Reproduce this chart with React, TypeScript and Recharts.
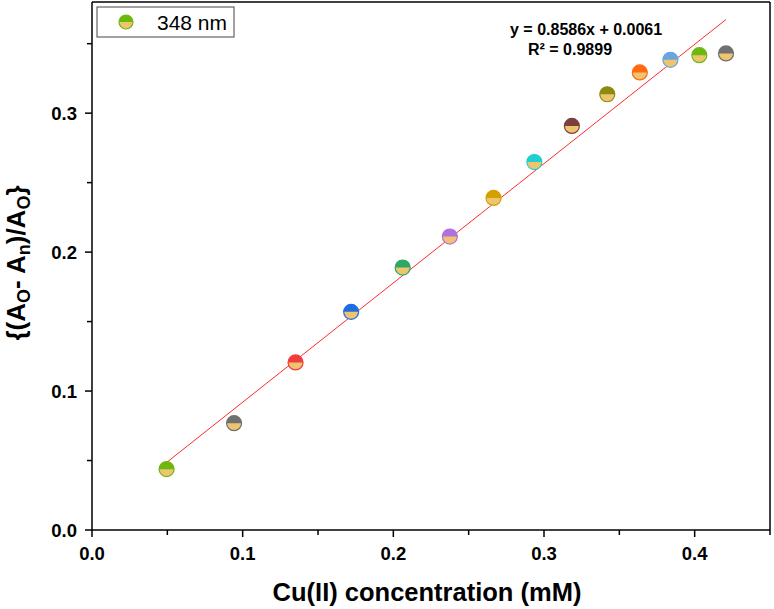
import React from "react"
import {
  ScatterChart,
  Scatter,
  XAxis,
  YAxis,
  ReferenceLine,
  Customized,
} from "recharts"

// concentrations (mM) and response {(Ao-An)/Ao}
const CONC = [0.0495, 0.0943, 0.1351, 0.172, 0.2062, 0.2375, 0.2665, 0.2936, 0.3185, 0.342, 0.3636, 0.3839, 0.4031, 0.4208]
const RESPONSE = [0.0438, 0.0769, 0.1206, 0.157, 0.1889, 0.2112, 0.239, 0.2648, 0.2908, 0.3136, 0.3293, 0.3384, 0.3417, 0.343]
const POINT_COLORS = [
  "#6cb80e", "#707070", "#f23c3c", "#1f6ee0", "#2fa866", "#b070e0", "#d4a000",
  "#1fd0d0", "#7a4040", "#8c8a10", "#ff6a10", "#6aa6de", "#6cb80e", "#707070",
]
const X_TICKS = [0, 0.05, 0.1, 0.15, 0.2, 0.25, 0.3, 0.35, 0.4, 0.45]
const Y_TICKS = [0, 0.05, 0.1, 0.15, 0.2, 0.25, 0.3, 0.35]

const SLOPE = 0.8586
const INTERCEPT = 0.0061
const FIT_RANGE = [0.0495, 0.4208]

const LOWER_FILL = "#eec46e"
const FONT = "Arial, 'Liberation Sans', sans-serif"

const data = CONC.map((x, i) => ({ x, y: RESPONSE[i], color: POINT_COLORS[i] }))
const fitSegment = FIT_RANGE.map((x) => ({ x, y: SLOPE * x + INTERCEPT }))

const isMajor = (v: number) => Math.abs(v * 10 - Math.round(v * 10)) < 1e-6

function HalfDot({ cx, cy, color, r = 7.5 }: any) {
  if (cx == null || cy == null) return null
  return (
    <g>
      <circle cx={cx} cy={cy} r={r} fill={LOWER_FILL} />
      <path d={`M ${cx - r} ${cy} A ${r} ${r} 0 0 1 ${cx + r} ${cy} Z`} fill={color} />
      <circle cx={cx} cy={cy} r={r} fill="none" stroke={color} strokeWidth={1.2} />
    </g>
  )
}

function XTick({ x, y, payload }: any) {
  const v = payload.value
  const major = isMajor(v)
  return (
    <g>
      <line x1={x} x2={x} y1={y} y2={y + (major ? 7 : 5)} stroke="#000" strokeWidth={1.5} />
      {major && (
        <text x={x} y={y + 30} textAnchor="middle" fontSize={18.5} fontWeight="bold" fill="#000" fontFamily={FONT}>
          {v.toFixed(1)}
        </text>
      )}
    </g>
  )
}

function YTick({ x, y, payload }: any) {
  const v = payload.value
  const major = isMajor(v)
  return (
    <g>
      <line x1={x} x2={x - (major ? 7 : 5)} y1={y} y2={y} stroke="#000" strokeWidth={1.5} />
      {major && (
        <text x={x - 15} y={y + 6.5} textAnchor="end" fontSize={18.5} fontWeight="bold" fill="#000" fontFamily={FONT}>
          {v.toFixed(1)}
        </text>
      )}
    </g>
  )
}

function Overlay() {
  return (
    <g fontFamily={FONT} fill="#000">
      {/* legend */}
      <rect x={97} y={7} width={137} height={30} fill="#fff" stroke="#444" strokeWidth={1} />
      <HalfDot cx={126} cy={22} color={POINT_COLORS[0]} r={7} />
      <text x={157} y={29.5} fontSize={21}>348 nm</text>

      {/* fit equation */}
      <text x={510} y={35} fontSize={16} fontWeight="bold">y = 0.8586x + 0.0061</text>
      <text x={528} y={55} fontSize={16} fontWeight="bold">R² = 0.9899</text>

      {/* axis titles */}
      <text x={427} y={601} textAnchor="middle" fontSize={25.5} fontWeight="bold">
        Cu(II) concentration (mM)
      </text>
      <text x={25} y={263} textAnchor="middle" fontSize={26} fontWeight="bold" transform="rotate(-90 25 263)">
        <tspan>{"{(A"}</tspan>
        <tspan fontSize={18} dy={5}>O</tspan>
        <tspan dy={-5}>{"- A"}</tspan>
        <tspan fontSize={18} dy={5}>n</tspan>
        <tspan dy={-5}>{")/A"}</tspan>
        <tspan fontSize={18} dy={5}>O</tspan>
        <tspan dy={-5}>{"}"}</tspan>
      </text>
    </g>
  )
}

export default function App() {
  return (
    <div style={{ position: "absolute", left: 0, top: 0, width: 774, height: 609, background: "#fff" }}>
      <ScatterChart width={774} height={609} margin={{ top: 2, right: 4, bottom: 0, left: 0 }}>
        <XAxis
          type="number"
          dataKey="x"
          domain={[0, 0.45]}
          ticks={X_TICKS}
          interval={0}
          height={79}
          tickSize={0}
          tickMargin={0}
          tickLine={false}
          tick={<XTick />}
          axisLine={{ stroke: "#000", strokeWidth: 1.5 }}
        />
        <YAxis
          type="number"
          dataKey="y"
          domain={[0, 0.38]}
          ticks={Y_TICKS}
          interval={0}
          width={92}
          tickSize={0}
          tickMargin={0}
          tickLine={false}
          tick={<YTick />}
          axisLine={{ stroke: "#000", strokeWidth: 1.5 }}
        />
        <ReferenceLine y={0.38} stroke="#000" strokeWidth={1.5} />
        <ReferenceLine x={0.45} stroke="#000" strokeWidth={1.5} />
        <ReferenceLine segment={fitSegment} stroke="#ff2a2a" strokeWidth={1} />
        <Scatter
          data={data}
          isAnimationActive={false}
          shape={(p: any) => <HalfDot cx={p.cx} cy={p.cy} color={p.payload.color} />}
        />
        <Customized component={<Overlay />} />
      </ScatterChart>
    </div>
  )
}
